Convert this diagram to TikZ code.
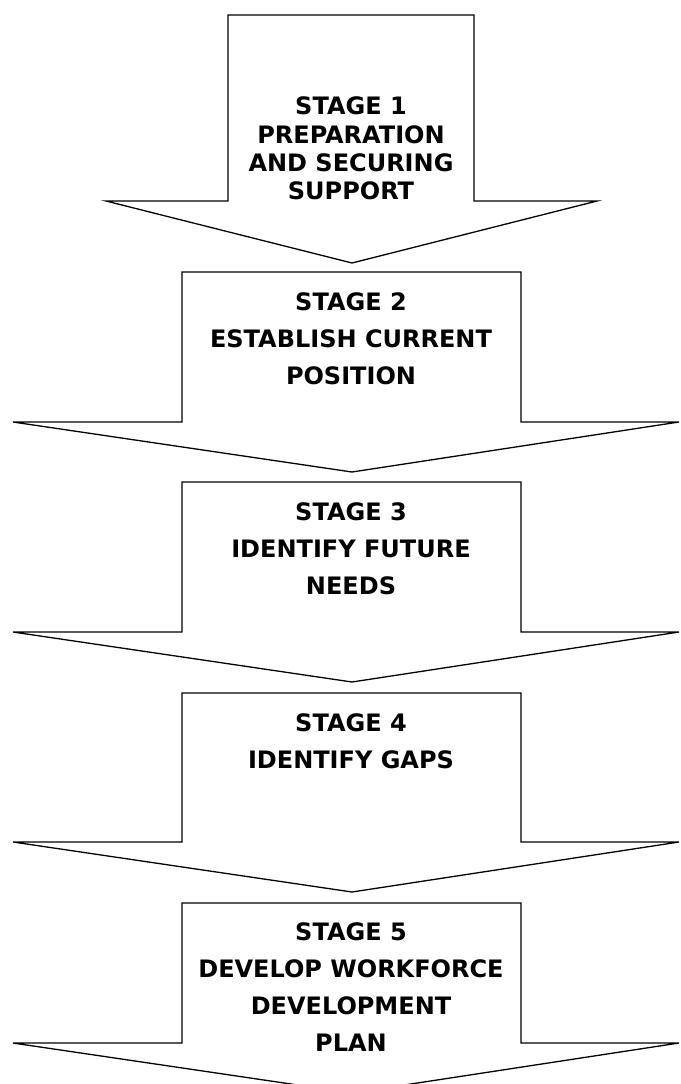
\documentclass[tikz,border=0pt]{standalone}
\usepackage{fontspec}
\setmainfont{DejaVu Sans}
\begin{document}
\begin{tikzpicture}[x=1pt,y=-1pt,
  arrowshape/.style={draw=black,fill=white,line width=1.3pt,line join=miter},
  label1/.style={align=center,inner sep=0pt,font=\fontsize{24}{28.3}\selectfont\bfseries},
  labeln/.style={align=center,inner sep=0pt,font=\fontsize{24}{36.8}\selectfont\bfseries}]
\useasboundingbox (0,0) rectangle (680,1084);
% arrow 1
\draw[arrowshape] (228,15) -- (474,15) -- (474,201) -- (597,201) -- (352,263) -- (106,201) -- (228,201) -- cycle;
% arrows 2-5
\foreach \t/\s in {272/422, 482/632, 693/842, 903/1043}{
  \draw[arrowshape] (182,\t) -- (521,\t) -- (521,\s) -- (679,\s) -- (352,\s+50) -- (13,\s) -- (182,\s) -- cycle;
}
\node[label1] (s1) at (351,148.5) {STAGE 1\\PREPARATION\\AND SECURING\\SUPPORT};
\node[labeln] (s2) at (351,339) {STAGE 2\\ESTABLISH CURRENT\\POSITION};
\node[labeln] (s3) at (351,549) {STAGE 3\\IDENTIFY FUTURE\\NEEDS};
\node[labeln] (s4) at (351,741.5) {STAGE 4\\IDENTIFY GAPS};
\node[labeln] (s5) at (351,987) {STAGE 5\\DEVELOP WORKFORCE\\DEVELOPMENT\\PLAN};
\end{tikzpicture}
\end{document}
